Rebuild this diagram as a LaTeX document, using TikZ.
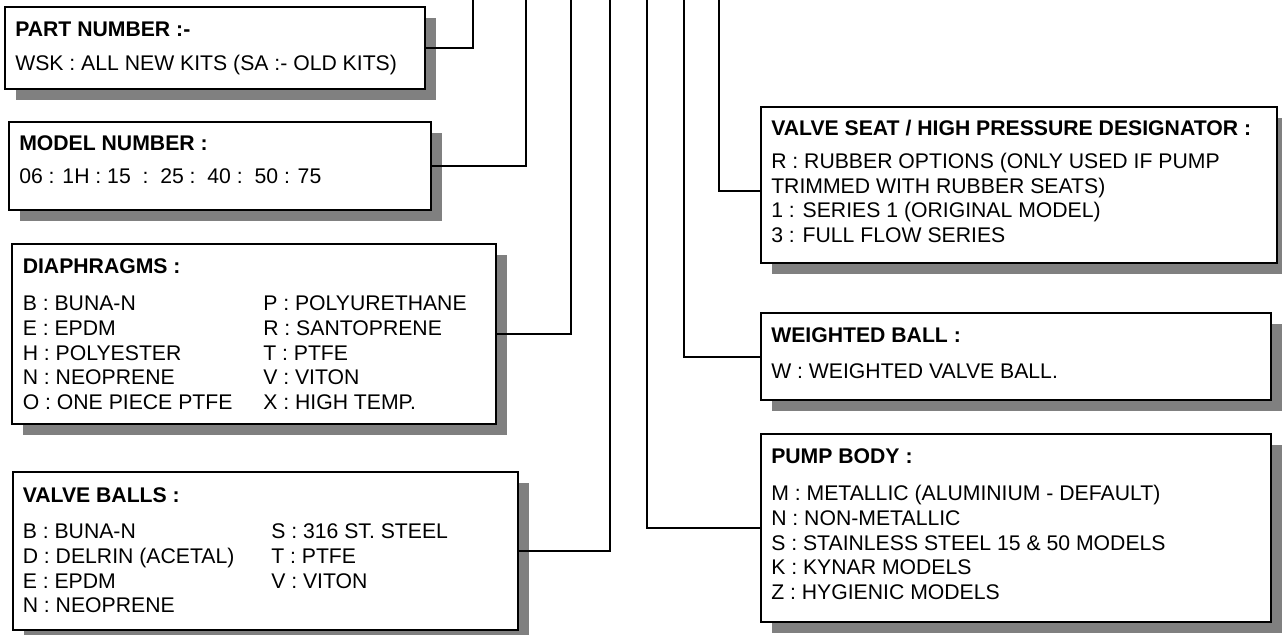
\documentclass[tikz,border=0pt]{standalone}
\usepackage{fontspec}
\setmainfont{Liberation Sans}
\usetikzlibrary{shadows}
\begin{document}
\begin{tikzpicture}[x=0.75pt,y=-0.75pt,
  box/.style={draw=black, line width=1.5pt, fill=white, inner sep=0pt,
    drop shadow={shadow xshift=8pt, shadow yshift=-8pt, fill=black!50, opacity=1}},
  conn/.style={draw=black, line width=1.5pt},
  txt/.style={anchor=base west, inner sep=0pt, font=\fontsize{15.9pt}{18pt}\selectfont},
  ttl/.style={anchor=base west, inner sep=0pt, font=\fontsize{15.9pt}{18pt}\selectfont\bfseries}]
\useasboundingbox (0,0) rectangle (1282,635);
\fill[white] (0,0) rectangle (1282,635);

% top ends of connectors
\coordinate (t1) at (473,0);
\coordinate (t2) at (526,0);
\coordinate (t3) at (571,0);
\coordinate (t4) at (610,0);
\coordinate (t5) at (647,0);
\coordinate (t6) at (684,0);
\coordinate (t7) at (719,0);

% boxes
\node[box, minimum width=315pt, minimum height=61.5pt] (part) at (215,48) {};
\node[box, minimum width=316.5pt, minimum height=66pt] (model) at (220,166) {};
\node[box, minimum width=363pt, minimum height=135pt] (diaph) at (254,334) {};
\node[box, minimum width=378.75pt, minimum height=118.5pt] (balls) at (265.5,551) {};
\node[box, minimum width=387pt, minimum height=117pt] (seat) at (1019,185) {};
\node[box, minimum width=382.5pt, minimum height=65.25pt] (weight) at (1016,356.5) {};
\node[box, minimum width=382.5pt, minimum height=141pt] (pump) at (1016,528) {};

% connectors
\draw[conn] (part.east) -| (t1);
\draw[conn] (model.east) -| (t2);
\draw[conn] (diaph.east) -| (t3);
\draw[conn] (balls.east) -| (t4);
\draw[conn] (pump.west) -| (t5);
\draw[conn] (weight.west) -| (t6);
\draw[conn] ([yshift=-4.5pt]seat.west) -| (t7);

% part number
\node[ttl] (partT) at (15,37) {PART NUMBER :-};
\node[txt] (partV) at (15,70) {WSK : ALL NEW KITS (SA :- OLD KITS)};

% model number
\node[ttl] (modelT) at (19,150.6) {MODEL NUMBER :};
\node[txt] (modelV) at (19,183.6) {06 : 1H : 15 \ :\ \ 25 :\ \ 40 :\ \ 50 : 75};

% diaphragms
\node[ttl] (diaphT) at (22.5,273.6) {DIAPHRAGMS :};
\node[txt] (d1) at (22.5,310.6) {B : BUNA-N};
\node[txt] (d2) at (22.5,335.3) {E : EPDM};
\node[txt] (d3) at (22.5,360) {H : POLYESTER};
\node[txt] (d4) at (22.5,384.7) {N : NEOPRENE};
\node[txt] (d5) at (22.5,409.4) {O : ONE PIECE PTFE};
\node[txt] (d6) at (263,310.6) {P : POLYURETHANE};
\node[txt] (d7) at (263,335.3) {R : SANTOPRENE};
\node[txt] (d8) at (263,360) {T : PTFE};
\node[txt] (d9) at (263,384.7) {V : VITON};
\node[txt] (d10) at (263,409.4) {X : HIGH TEMP.};

% valve balls
\node[ttl] (ballsT) at (22.5,502.6) {VALVE BALLS :};
\node[txt] (b1) at (22.5,538.6) {B : BUNA-N};
\node[txt] (b2) at (22.5,563.3) {D : DELRIN (ACETAL)};
\node[txt] (b3) at (22.5,588) {E : EPDM};
\node[txt] (b4) at (22.5,612.7) {N : NEOPRENE};
\node[txt] (b5) at (271,538.6) {S : 316 ST. STEEL};
\node[txt] (b6) at (271,563.3) {T : PTFE};
\node[txt] (b7) at (271,588) {V : VITON};

% valve seat
\node[ttl] (seatT) at (771,135.6) {VALVE SEAT / HIGH PRESSURE DESIGNATOR :};
\node[txt] (s1) at (771,168.6) {R : RUBBER OPTIONS (ONLY USED IF PUMP};
\node[txt] (s2) at (771,193.2) {TRIMMED WITH RUBBER SEATS)};
\node[txt] (s3) at (771,217.8) {1 : SERIES 1 (ORIGINAL MODEL)};
\node[txt] (s4) at (771,242.4) {3 : FULL FLOW SERIES};

% weighted ball
\node[ttl] (weightT) at (771,342.6) {WEIGHTED BALL :};
\node[txt] (w1) at (771,378.6) {W : WEIGHTED VALVE BALL.};

% pump body
\node[ttl] (pumpT) at (771,463.6) {PUMP BODY :};
\node[txt] (p1) at (771,500.6) {M : METALLIC (ALUMINIUM - DEFAULT)};
\node[txt] (p2) at (771,525.3) {N : NON-METALLIC};
\node[txt] (p3) at (771,550) {S : STAINLESS STEEL 15 \& 50 MODELS};
\node[txt] (p4) at (771,574.7) {K : KYNAR MODELS};
\node[txt] (p5) at (771,599.4) {Z : HYGIENIC MODELS};
\end{tikzpicture}
\end{document}
